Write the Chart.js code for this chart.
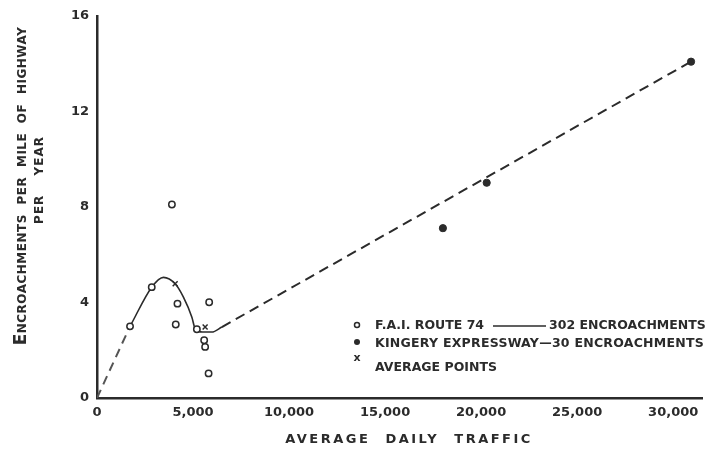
<!DOCTYPE html>
<html>
<head>
<meta charset="utf-8">
<script src="https://cdn.jsdelivr.net/npm/chart.js@4"></script>
<style>
  html, body { margin: 0; padding: 0; background: #fff; }
  #wrap { width: 711px; height: 454px; }
</style>
</head>
<body>
<div id="wrap"><canvas id="chart" width="711" height="454"></canvas></div>
<script>
// values
const route74 = [
  { x: 1720, y: 3.0 }, { x: 2850, y: 4.64 }, { x: 3900, y: 8.1 },
  { x: 4190, y: 3.95 }, { x: 4100, y: 3.08 }, { x: 5200, y: 2.88 },
  { x: 5840, y: 4.01 }, { x: 5580, y: 2.42 }, { x: 5630, y: 2.14 },
  { x: 5810, y: 1.03 }
];
const kingery = [
  { x: 18010, y: 7.11 }, { x: 20290, y: 9.01 }, { x: 30930, y: 14.08 }
];
const averagePoints = [
  { x: 4070, y: 4.78 }, { x: 5630, y: 2.97 }
];
// drawn curve through the averages (solid part)
const fittedCurve = [
  { x: 1720, y: 3.0 }, { x: 2850, y: 4.64 }, { x: 3460, y: 5.05 },
  { x: 4070, y: 4.78 }, { x: 4500, y: 4.22 }, { x: 4940, y: 3.38 },
  { x: 5110, y: 2.9 }, { x: 5500, y: 2.76 }, { x: 5980, y: 2.76 },
  { x: 6500, y: 2.97 }
];
const dashedLow = [{ x: 0, y: 0 }, { x: 1720, y: 3.0 }];
const dashedHigh = [{ x: 6500, y: 2.97 }, { x: 30930, y: 14.08 }];

const xTickValues = [0, 5000, 10000, 15000, 20000, 25000, 30000];
const yTickValues = [0, 4, 8, 12, 16];

const ink = "#2b2b2b";
const font = "DejaVu Sans";

const legendRows = [
  { marker: "open", text: "F.A.I. ROUTE 74", rule: true, tail: "302 ENCROACHMENTS", spacing: "0px" },
  { marker: "filled", text: "KINGERY EXPRESSWAY\u201430 ENCROACHMENTS", spacing: "0.25px" },
  { marker: "cross", text: "AVERAGE POINTS", spacing: "0px" }
];

const titlesPlugin = {
  id: "titles",
  afterDraw(chart) {
    const ctx = chart.ctx;
    ctx.save();
    ctx.fillStyle = ink;
    ctx.textBaseline = "middle";

    // x title
    ctx.font = `bold 13px "${font}"`;
    ctx.letterSpacing = "2.5px";
    ctx.wordSpacing = "8px";
    ctx.textAlign = "center";
    ctx.fillText("AVERAGE DAILY TRAFFIC", 409, 440);

    // y title, two lines rotated
    ctx.save();
    ctx.translate(22, 186);
    ctx.rotate(-Math.PI / 2);
    ctx.letterSpacing = "0.5px";
    ctx.wordSpacing = "5px";
    ctx.textAlign = "left";
    ctx.font = `bold 17px "${font}"`;
    const wE = ctx.measureText("E").width;
    ctx.font = `bold 12px "${font}"`;
    const rest = "NCROACHMENTS PER MILE OF HIGHWAY";
    const wRest = ctx.measureText(rest).width;
    const start = -(wE + wRest) / 2;
    ctx.font = `bold 17px "${font}"`;
    ctx.fillText("E", start, 0);
    ctx.font = `bold 12px "${font}"`;
    ctx.fillText(rest, start + wE, 1);
    ctx.restore();

    ctx.save();
    ctx.translate(40, 180);
    ctx.rotate(-Math.PI / 2);
    ctx.font = `bold 12px "${font}"`;
    ctx.letterSpacing = "1px";
    ctx.wordSpacing = "14px";
    ctx.textAlign = "center";
    ctx.fillText("PER YEAR", 0, 0);
    ctx.restore();

    // legend
    ctx.wordSpacing = "0px";
    ctx.textAlign = "left";
    const legendFont = `bold 12.5px "${font}"`;
    ctx.font = legendFont;
    const rowY = [326, 344, 368];
    const markY = [325, 342, 358];
    legendRows.forEach((row, i) => {
      const mx = 357;
      ctx.letterSpacing = "0px";
      ctx.strokeStyle = ink;
      ctx.lineWidth = 1.5;
      if (row.marker === "open") {
        ctx.beginPath();
        ctx.arc(mx, markY[i], 2.5, 0, Math.PI * 2);
        ctx.stroke();
      } else if (row.marker === "filled") {
        ctx.beginPath();
        ctx.arc(mx, markY[i], 3, 0, Math.PI * 2);
        ctx.fill();
      } else {
        ctx.font = `bold 11px "${font}"`;
        ctx.textAlign = "center";
        ctx.fillText("x", mx, markY[i]);
        ctx.textAlign = "left";
        ctx.font = legendFont;
      }
      ctx.letterSpacing = row.spacing;
      ctx.fillText(row.text, 375, rowY[i]);
      if (row.rule) {
        ctx.beginPath();
        ctx.moveTo(493, rowY[i]);
        ctx.lineTo(546, rowY[i]);
        ctx.stroke();
        ctx.fillText(row.tail, 549, rowY[i]);
      }
    });
    ctx.restore();
  }
};

new Chart(document.getElementById("chart").getContext("2d"), {
  type: "scatter",
  data: {
    datasets: [
      {
        label: "F.A.I. Route 74",
        data: route74,
        pointStyle: "circle",
        pointRadius: 3.2,
        pointBorderWidth: 1.5,
        pointBackgroundColor: "#fff",
        pointBorderColor: ink
      },
      {
        label: "Kingery Expressway",
        data: kingery,
        pointStyle: "circle",
        pointRadius: 3.6,
        pointBackgroundColor: ink,
        pointBorderColor: ink
      },
      {
        label: "Average points",
        data: averagePoints,
        pointStyle: "crossRot",
        pointRadius: 3.5,
        pointBorderWidth: 1.5,
        pointBorderColor: ink
      },
      {
        label: "curve",
        data: fittedCurve,
        showLine: true,
        pointRadius: 0,
        borderColor: ink,
        borderWidth: 1.6,
        cubicInterpolationMode: "monotone"
      },
      {
        label: "low",
        data: dashedLow,
        showLine: true,
        pointRadius: 0,
        borderColor: "#555",
        borderWidth: 2,
        borderDash: [9, 6]
      },
      {
        label: "high",
        data: dashedHigh,
        showLine: true,
        pointRadius: 0,
        borderColor: ink,
        borderWidth: 2,
        borderDash: [10, 6]
      }
    ]
  },
  options: {
    responsive: false,
    animation: false,
    layout: { padding: { left: 0, top: 14, right: 9, bottom: 0 } },
    plugins: {
      legend: { display: false },
      tooltip: { enabled: false }
    },
    scales: {
      x: {
        type: "linear",
        min: 0,
        max: 31500,
        afterBuildTicks: (s) => { s.ticks = xTickValues.map((v) => ({ value: v })); },
        afterFit: (s) => { s.height = 56; },
        grid: { display: false, drawTicks: false },
        border: { display: true, color: ink, width: 2.5 },
        ticks: {
          color: ink,
          padding: 7,
          maxRotation: 0,
          font: { family: font, size: 13, weight: "bold" },
          callback: (v) => v.toLocaleString("en-US")
        }
      },
      y: {
        type: "linear",
        min: 0,
        max: 16,
        afterBuildTicks: (s) => { s.ticks = yTickValues.map((v) => ({ value: v })); },
        afterFit: (s) => { s.width = 97; },
        grid: { display: false, drawTicks: false },
        border: { display: true, color: ink, width: 2.5 },
        ticks: {
          color: ink,
          padding: 8,
          font: { family: font, size: 13, weight: "bold" }
        }
      }
    }
  },
  plugins: [titlesPlugin]
});
</script>
</body>
</html>
